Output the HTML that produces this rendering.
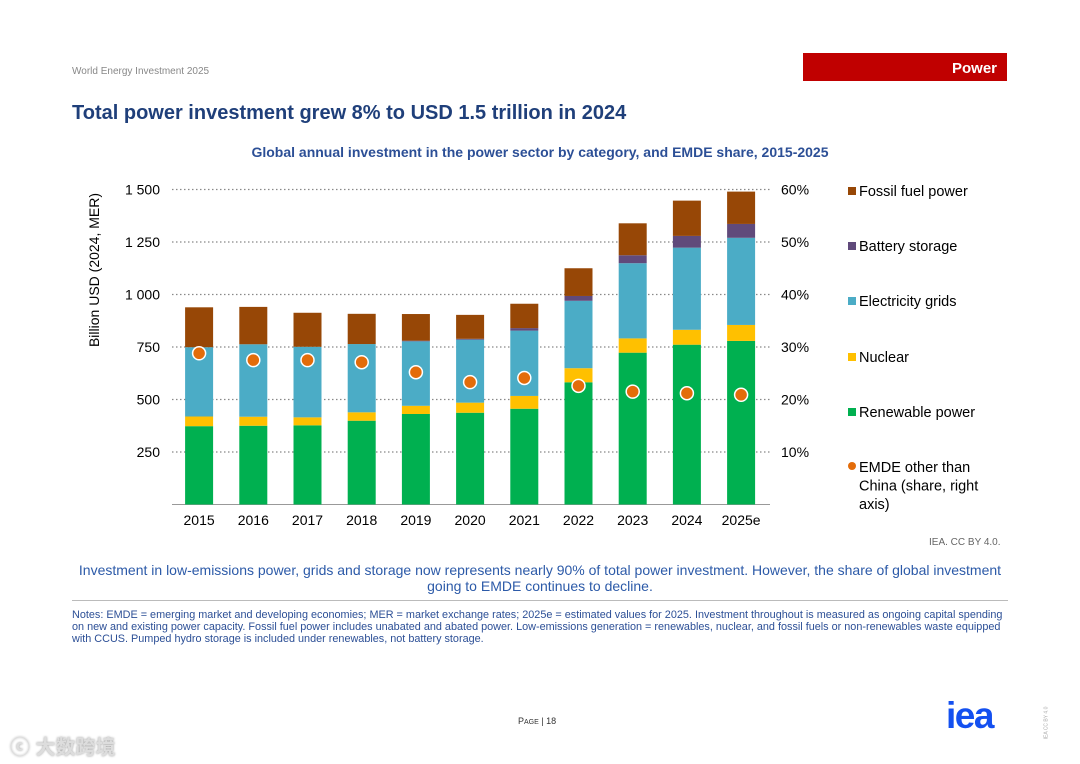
<!DOCTYPE html>
<html><head><meta charset="utf-8"><style>
body{margin:0;width:1080px;height:764px;background:#fff;font-family:"Liberation Sans","Noto Sans CJK SC",sans-serif;position:relative;overflow:hidden}
.a{position:absolute;white-space:nowrap}
</style></head><body>
<div class="a" style="left:72px;top:66px;font-size:10px;color:#888">World Energy Investment 2025</div>
<div class="a" style="left:803px;top:53px;width:204px;height:28px;background:#c00000;color:#fff;font-size:15px;font-weight:bold;text-align:right;box-sizing:border-box;padding:7px 10px 0 0">Power</div>
<div class="a" style="left:72px;top:102px;font-size:20px;font-weight:bold;color:#1f3f7a">Total power investment grew 8% to USD 1.5 trillion in 2024</div>
<div class="a" style="left:0;width:1080px;text-align:center;top:144px;font-size:14px;font-weight:bold;color:#2c4f96">Global annual investment in the power sector by category, and EMDE share, 2015-2025</div>
<svg class="a" style="left:0;top:0" width="1080" height="764" id="chart"></svg>
<div class="a" style="left:929px;top:537px;font-size:10px;color:#666">IEA. CC BY 4.0.</div>
<div class="a" style="left:40px;width:1000px;top:562px;font-size:14px;color:#2c5aa8;text-align:center;line-height:16px">Investment in low-emissions power, grids and storage now represents nearly 90% of total power investment. However, the share of global investment<br>going to EMDE continues to decline.</div>
<div class="a" style="left:72px;width:936px;top:600px;border-top:1px solid #bbb"></div>
<div class="a" style="left:72px;top:609px;font-size:10.85px;color:#2c4f96;line-height:12px">Notes: EMDE = emerging market and developing economies; MER = market exchange rates; 2025e = estimated values for 2025. Investment throughout is measured as ongoing capital spending<br>on new and existing power capacity. Fossil fuel power includes unabated and abated power. Low-emissions generation = renewables, nuclear, and fossil fuels or non-renewables waste equipped<br>with CCUS. Pumped hydro storage is included under renewables, not battery storage.</div>
<div class="a" style="left:518px;top:716px;font-size:9px;color:#333">P<span style="font-size:7px">AGE</span> | 18</div>
<div class="a" style="left:946px;top:695px;font-size:37px;font-weight:bold;color:#1450f0;letter-spacing:-1.5px">iea</div>
<div class="a" style="left:1030px;top:720px;font-size:5px;color:#aaa;transform:rotate(-90deg)">IEA CC BY 4.0</div>
<div class="a" style="left:10px;top:731px;font-size:20px;color:#ddd;font-weight:bold;text-shadow:0 0 2px #999">ⓒ 大数跨境</div>
<script>
const years=["2015","2016","2017","2018","2019","2020","2021","2022","2023","2024","2025e"];
const renewable=[373,375,377,399,431,437,456,582,723,761,779];
const nuclear=[46,43,38,40,39,48,61,67,68,71,76];
const grids=[330,345,336,325,307,300,311,321,358,391,415];
const battery=[0,0,0,0,3,4,12,23,38,56,66];
const fossil=[190,178,162,144,127,114,116,132,152,168,154];
const emdeShare=[28.8,27.5,27.5,27.1,25.2,23.3,24.1,22.6,21.5,21.2,20.9];
const leftTicks=[250,500,750,1000,1250,1500];
const leftTickLabels=["250","500","750","1 000","1 250","1 500"];
const rightTicks=[10,20,30,40,50,60];
const series=[["renewable",renewable,"#00b050"],["nuclear",nuclear,"#ffc000"],["grids",grids,"#4bacc6"],["battery",battery,"#604a7b"],["fossil",fossil,"#974706"]];
const svg=document.getElementById('chart');const NS="http://www.w3.org/2000/svg";
const y0=504.5,ky=0.21,x0=172,bw=54.2;
const yL=v=>y0-v*ky, yR=p=>y0-p*5.25, xC=i=>x0+bw*(i+0.5);
function mk(t,a){const e=document.createElementNS(NS,t);for(const k in a)e.setAttribute(k,a[k]);svg.appendChild(e);return e;}
leftTicks.forEach((t,i)=>{
const g=mk('line',{x1:172,x2:770,y1:yL(t),y2:yL(t),stroke:'#888','stroke-dasharray':'1.5,2.5','stroke-width':1.2});


const l=mk('text',{x:160,y:yL(t)+5,'text-anchor':'end','font-size':14,fill:'#000'});l.textContent=leftTickLabels[i];


});
rightTicks.forEach(t=>{const l=mk('text',{x:781,y:yR(t)+5,'font-size':14,fill:'#000'});l.textContent=t+'%';

});
mk('line',{x1:172,x2:770,y1:y0,y2:y0,stroke:'#999'});
years.forEach((yr,i)=>{let acc=0;series.forEach(s=>{const v=s[1][i];if(v>0){const r=mk('rect',{x:xC(i)-14,width:28,y:yL(acc+v),height:v*ky,fill:s[2]});

}acc+=v;});
const t=mk('text',{x:xC(i),y:525,'text-anchor':'middle','font-size':14,fill:'#000'});t.textContent=yr;

});
emdeShare.forEach((p,i)=>{const c=mk('circle',{cx:xC(i),cy:yR(p),r:6.5,fill:'#e36c0a',stroke:'#fff','stroke-width':1.5});

});
const yt=mk('text',{x:99,y:270,'text-anchor':'middle','font-size':14,fill:'#000',transform:'rotate(-90 99 270)'});yt.textContent='Billion USD (2024, MER)';


const leg=[["Fossil fuel power","#974706",191],["Battery storage","#604a7b",246],["Electricity grids","#4bacc6",301],["Nuclear","#ffc000",357],["Renewable power","#00b050",412]];
leg.forEach(l=>{const r=mk('rect',{x:848,y:l[2]-4,width:8,height:8,fill:l[1]});


const t=mk('text',{x:859,y:l[2]+5,'font-size':14.5,fill:'#000'});t.textContent=l[0];

});
const lc=mk('circle',{cx:852,cy:466,r:4,fill:'#e36c0a'});


["EMDE other than","China (share, right","axis)"].forEach((s,i)=>{const t=mk('text',{x:859,y:472+i*18.5,'font-size':14.5,fill:'#000'});t.textContent=s;

});
</script>
</body></html>
